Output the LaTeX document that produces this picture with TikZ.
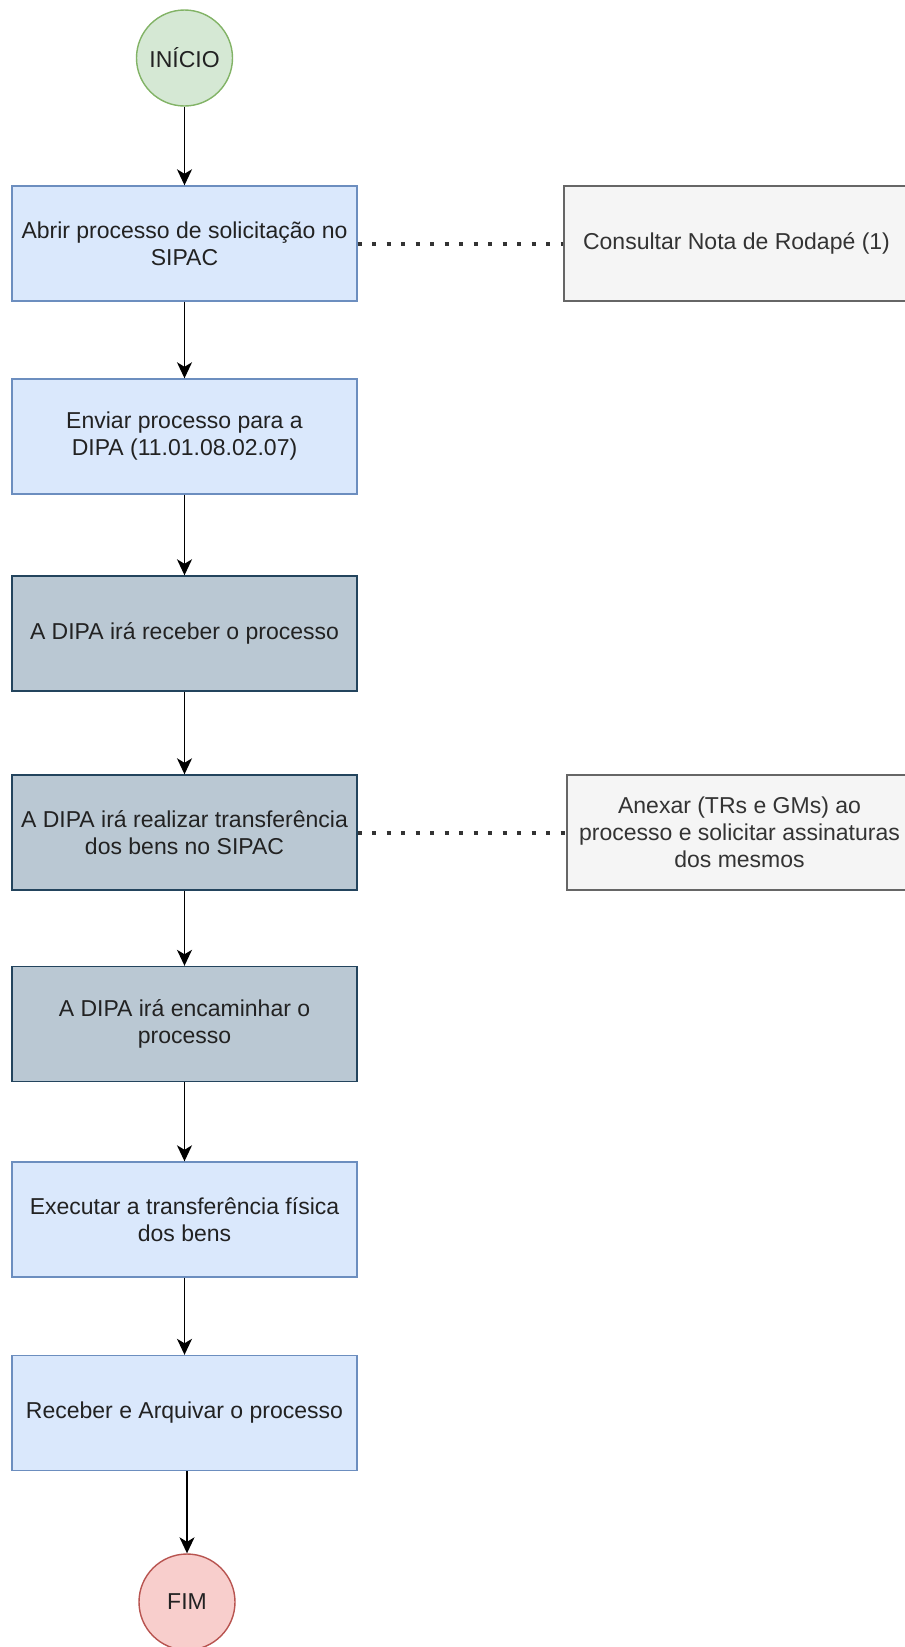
\documentclass[tikz,border=0pt]{standalone}
\usepackage{fontspec}
\setmainfont{Liberation Sans}
\usetikzlibrary{arrows.meta}
\definecolor{userFill}{HTML}{DAE8FC}
\definecolor{userLine}{HTML}{6C8EBF}
\definecolor{dipaFill}{HTML}{BAC8D3}
\definecolor{dipaLine}{HTML}{23445D}
\definecolor{noteFill}{HTML}{F5F5F5}
\definecolor{noteLine}{HTML}{666666}
\definecolor{noteText}{HTML}{333333}
\definecolor{startFill}{HTML}{D5E8D4}
\definecolor{startLine}{HTML}{82B366}
\definecolor{finishFill}{HTML}{F8CECC}
\definecolor{finishLine}{HTML}{B85450}
\definecolor{mainText}{HTML}{222222}

\begin{document}
\begin{tikzpicture}
[x=1pt,y=-1pt,line width=1.4pt,%
  font=\fontsize{23}{27}\selectfont,text=mainText,%
  stepBox/.style={shape=rectangle,draw,minimum width=345pt,minimum height=115pt,align=center,inner sep=1pt},%
  userBox/.style={stepBox,fill=userFill,draw=userLine},%
  dipaBox/.style={stepBox,fill=dipaFill,draw=dipaLine},%
  noteBox/.style={stepBox,fill=noteFill,draw=noteLine,text=noteText},%
  endDecorate/.style={shape=circle,minimum size=96pt,inner sep=0pt,draw},%
  flowDecorate/.style={-{Stealth[length=16pt,width=15pt,inset=4.5pt]},line width=1.7pt,draw=black},%
  noteDecorate/.style={-,line width=4pt,dash pattern=on 4pt off 10.5pt,draw=noteText}]
\useasboundingbox (0,0) rectangle (905,1647);
%% start and end
\node[endDecorate,fill=startFill,draw=startLine] (start) at (184.5,58) {INÍCIO};
\node[endDecorate,fill=finishFill,draw=finishLine] (finish) at (187,1602) {FIM};
%% process steps
\foreach \nodename/\y/\kind/\caption in {
  open/243.5/userBox/{Abrir processo de solicitação no\\SIPAC},
  send/436.5/userBox/{Enviar processo para a\\DIPA (11.01.08.02.07)},
  receive/633.5/dipaBox/{A DIPA irá receber o processo},
  transfer/832.5/dipaBox/{A DIPA irá realizar transferência\\dos bens no SIPAC},
  forward/1024/dipaBox/{A DIPA irá encaminhar o\\processo},
  execute/1219.5/userBox/{Executar a transferência física\\dos bens},
  archive/1413/userBox/{Receber e Arquivar o processo}}
{
  \node[\kind] (\nodename) at (184.5,\y) {\caption};
}
%% side notes
\node[noteBox] (footnote) at (736.5,243.5) {Consultar Nota de Rodapé (1)};
\node[noteBox] (attach) at (739.5,832.5) {Anexar (TRs e GMs) ao\\processo e solicitar assinaturas\\dos mesmos};
%% connect the steps
\foreach \from/\to in {start/open, open/send, send/receive, receive/transfer,
  transfer/forward, forward/execute, execute/archive}
{
  \draw[flowDecorate] (\from) -- (\to);
}
\draw[flowDecorate] (archive.south -| finish) -- (finish);
\path
(open) edge[noteDecorate] (footnote)
(transfer) edge[noteDecorate] (attach);
\end{tikzpicture}
\end{document}
